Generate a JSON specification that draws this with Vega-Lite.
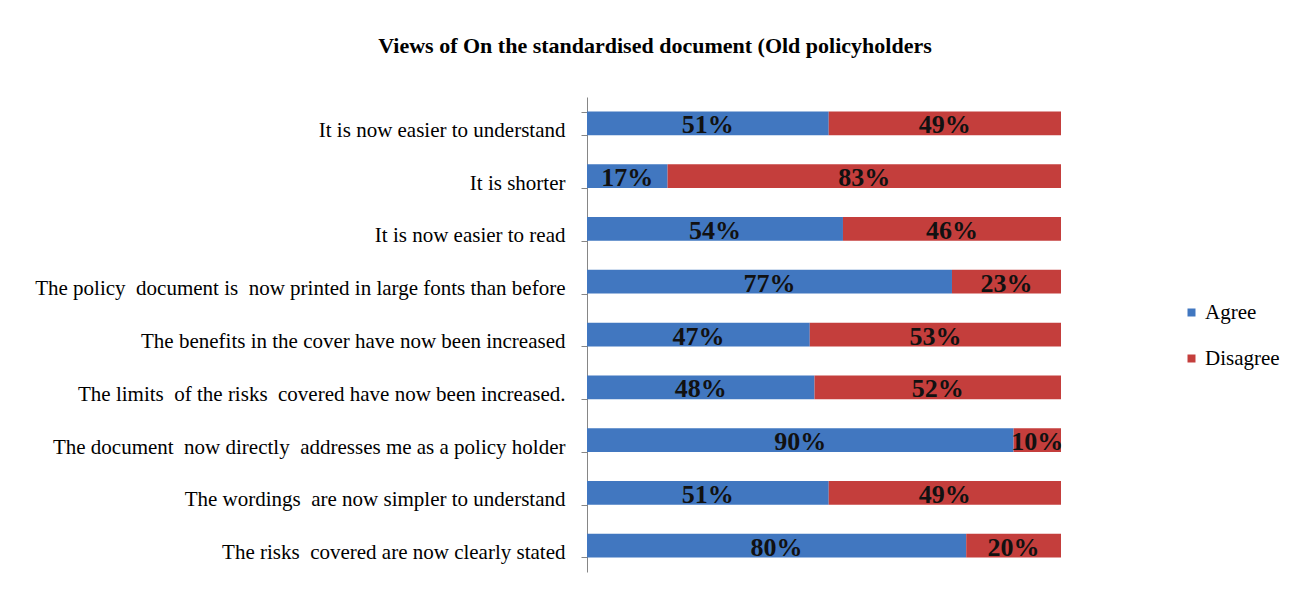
{
  "$schema": "https://vega.github.io/schema/vega-lite/v6.json",
  "autosize": "none",
  "width": 474,
  "height": 475,
  "padding": {"left": 587, "top": 97, "right": 242, "bottom": 25},
  "background": "white",
  "title": {
    "text": "Views of On the standardised document (Old policyholders",
    "font": "Liberation Serif",
    "fontSize": 22,
    "fontWeight": "bold",
    "color": "black",
    "anchor": "middle",
    "frame": "group",
    "dx": -169,
    "offset": 28
  },
  "config": {"view": {"stroke": null}},
  "data": {
    "values": [
      {"statement": "It is now easier to understand", "response": "Agree", "pct": 0.51, "o": 1},
      {"statement": "It is now easier to understand", "response": "Disagree", "pct": 0.49, "o": 2},
      {"statement": "It is shorter", "response": "Agree", "pct": 0.17, "o": 1},
      {"statement": "It is shorter", "response": "Disagree", "pct": 0.83, "o": 2},
      {"statement": "It is now easier to read", "response": "Agree", "pct": 0.54, "o": 1},
      {"statement": "It is now easier to read", "response": "Disagree", "pct": 0.46, "o": 2},
      {"statement": "The policy\u00a0 document is\u00a0 now printed in large fonts than before", "response": "Agree", "pct": 0.77, "o": 1},
      {"statement": "The policy\u00a0 document is\u00a0 now printed in large fonts than before", "response": "Disagree", "pct": 0.23, "o": 2},
      {"statement": "The benefits in the cover have now been increased", "response": "Agree", "pct": 0.47, "o": 1},
      {"statement": "The benefits in the cover have now been increased", "response": "Disagree", "pct": 0.53, "o": 2},
      {"statement": "The limits\u00a0 of the risks\u00a0 covered have now been increased.", "response": "Agree", "pct": 0.48, "o": 1},
      {"statement": "The limits\u00a0 of the risks\u00a0 covered have now been increased.", "response": "Disagree", "pct": 0.52, "o": 2},
      {"statement": "The document\u00a0 now directly\u00a0 addresses me as a policy holder", "response": "Agree", "pct": 0.90, "o": 1},
      {"statement": "The document\u00a0 now directly\u00a0 addresses me as a policy holder", "response": "Disagree", "pct": 0.10, "o": 2},
      {"statement": "The wordings\u00a0 are now simpler to understand", "response": "Agree", "pct": 0.51, "o": 1},
      {"statement": "The wordings\u00a0 are now simpler to understand", "response": "Disagree", "pct": 0.49, "o": 2},
      {"statement": "The risks\u00a0 covered are now clearly stated", "response": "Agree", "pct": 0.80, "o": 1},
      {"statement": "The risks\u00a0 covered are now clearly stated", "response": "Disagree", "pct": 0.20, "o": 2}
    ]
  },
  "encoding": {
    "y": {
      "field": "statement",
      "type": "nominal",
      "sort": null,
      "scale": {"paddingInner": 0.55, "paddingOuter": 0.275},
      "axis": {
        "title": null,
        "labelFont": "Liberation Serif",
        "labelFontSize": 21,
        "labelColor": "black",
        "labelPadding": 16,
        "labelOffset": 7,
        "labelLimit": 600,
        "domainColor": "#868686",
        "tickColor": "#868686",
        "ticks": true,
        "tickSize": 6,
        "tickWidth": 1,
        "tickBand": "extent"
      }
    }
  },
  "layer": [
    {
      "mark": {"type": "bar"},
      "encoding": {
        "x": {"field": "pct", "type": "quantitative", "stack": "zero", "scale": {"domain": [0, 1], "nice": false}, "axis": null},
        "color": {
          "field": "response",
          "type": "nominal",
          "scale": {"domain": ["Agree", "Disagree"], "range": ["#4177C0", "#C43E3C"]},
          "legend": {
            "title": null,
            "orient": "none",
            "legendX": 594,
            "legendY": 205,
            "symbolType": "square",
            "symbolSize": 64,
            "symbolStrokeWidth": 0,
            "labelFont": "Liberation Serif",
            "labelFontSize": 21,
            "labelColor": "black",
            "labelOffset": 3,
            "rowPadding": 24
          }
        },
        "order": {"field": "o", "type": "quantitative"}
      }
    },
    {
      "mark": {"type": "text", "font": "Liberation Serif", "fontSize": 26, "fontWeight": "bold", "color": "#111111", "baseline": "middle", "align": "center", "dy": 2},
      "encoding": {
        "x": {"field": "pct", "type": "quantitative", "stack": "zero", "bandPosition": 0.5},
        "order": {"field": "o", "type": "quantitative"},
        "detail": {"field": "response"},
        "text": {"field": "pct", "type": "quantitative", "format": ".0%"}
      }
    }
  ]
}
